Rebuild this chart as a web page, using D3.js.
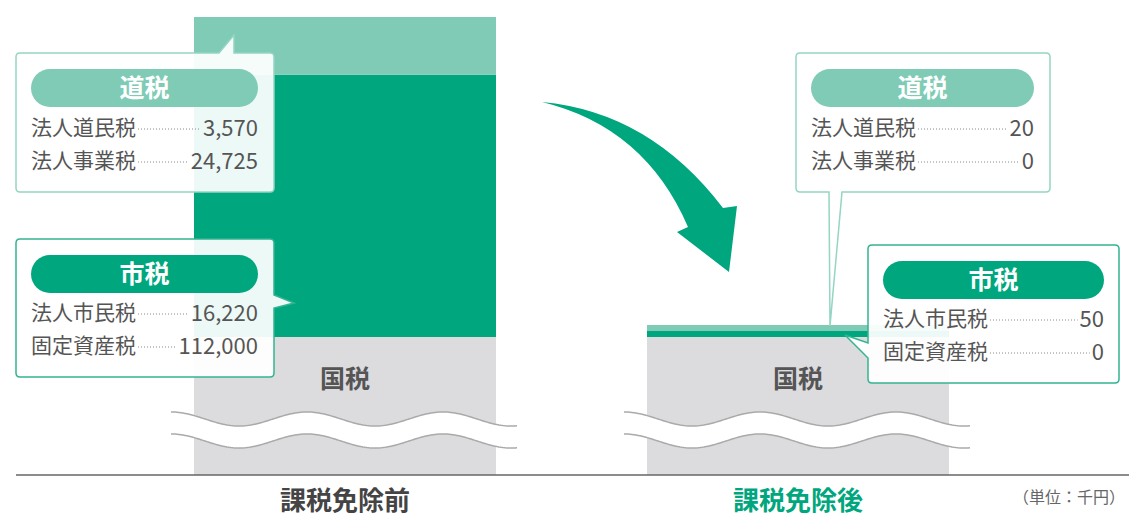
<!DOCTYPE html>
<html>
<head>
<meta charset="utf-8">
<script src="https://cdn.jsdelivr.net/npm/d3@7"></script>
<style>
  body { margin: 0; background: #fff; }
  svg { display: block; font-family: "Noto Sans CJK JP", "Noto Sans", sans-serif; }
</style>
</head>
<body>
<div id="vis"></div>
<script>
// data (unit: 千円)
var categories = ["課税免除前", "課税免除後"];
var doItems = ["法人道民税", "法人事業税"];
var doValues = [[3570, 24725], [20, 0]];      // per category
var shiItems = ["法人市民税", "固定資産税"];
var shiValues = [[16220, 112000], [50, 0]];
var kokuzeiLabel = "国税";
var unitLabel = "（単位：千円）";

var W = 1129, H = 518;
var LIGHT = "#7fcbb5", DARK = "#00a67d", GREY = "#dcdcdf", TEXT = "#555";

var svg = d3.select("#vis").append("svg").attr("width", W).attr("height", H);

var x = d3.scalePoint().domain(categories).range([345, 798]);
var barW = 302;
var baseY = 337, axisY = 475;
var totals = categories.map(function(c, i) { return d3.sum(doValues[i]) + d3.sum(shiValues[i]); });
var h = d3.scaleLinear().domain([0, d3.max(totals)]).range([0, 320]);
function bandH(v) { return Math.max(h(v), 6); }   // keep tiny values visible

var g = svg.append("g");

categories.forEach(function(c, i) {
  var cx = x(c), x0 = cx - barW / 2;
  var shiH = bandH(d3.sum(shiValues[i]));
  var doH = bandH(d3.sum(doValues[i]));
  // national tax block
  g.append("rect").attr("x", x0).attr("y", baseY).attr("width", barW).attr("height", axisY - baseY).attr("fill", GREY);
  g.append("rect").attr("x", x0).attr("y", baseY - shiH).attr("width", barW).attr("height", shiH).attr("fill", DARK);
  g.append("rect").attr("x", x0).attr("y", baseY - shiH - doH).attr("width", barW).attr("height", doH).attr("fill", LIGHT);

  g.append("text").attr("x", cx).attr("y", 379).attr("dy", "0.35em")
    .attr("text-anchor", "middle").attr("font-size", 25).attr("font-weight", 700)
    .attr("fill", TEXT).text(kokuzeiLabel);

  // wave break
  var wx0 = x0 - 23, wx1 = x0 + barW + 22, P = 136, A = 7;
  var up = d3.range(wx0, wx1 + 1, 2).map(function(px) { return [px, 419 - A * Math.cos(2 * Math.PI * (px - wx0) / P)]; });
  var lo = up.map(function(p) { return [p[0], p[1] + 22]; });
  var line = d3.line();
  g.append("path").attr("d", line(up.concat(lo.slice().reverse())) + "Z").attr("fill", "#fff");
  g.append("path").attr("d", line(up)).attr("fill", "none").attr("stroke", "#aaa").attr("stroke-width", 1.5);
  g.append("path").attr("d", line(lo)).attr("fill", "none").attr("stroke", "#aaa").attr("stroke-width", 1.5);

  g.append("text").attr("x", cx).attr("y", 501).attr("dy", "0.35em")
    .attr("text-anchor", "middle").attr("font-size", 26).attr("font-weight", 700)
    .attr("fill", i == 0 ? "#444" : DARK).text(c);
});

// axis line
g.append("line").attr("x1", 16).attr("x2", W).attr("y1", axisY).attr("y2", axisY)
  .attr("stroke", "#666").attr("stroke-width", 1.5);

g.append("text").attr("x", 1125).attr("y", 497).attr("dy", "0.35em").attr("text-anchor", "end")
  .attr("font-size", 16).attr("fill", "#666").text(unitLabel);

// arrow
g.append("path")
  .attr("d", "M542,102 Q650,112 723,208 L737,206 L729,272 L677,232 L688,227 Q645,127 542,102 Z")
  .attr("fill", DARK);

// callout boxes
function boxPath(b) {
  var x0 = b.x, y0 = b.y, x1 = b.x + b.w, y1 = b.y + b.h, r = 4, p = b.ptr;
  var s = "M" + (x0 + r) + "," + y0;
  if (p.side == "top") s += "L" + p.a + "," + y0 + "L" + p.tip + "L" + p.b + "," + y0;
  s += "L" + (x1 - r) + "," + y0 + "Q" + x1 + "," + y0 + " " + x1 + "," + (y0 + r);
  if (p.side == "right") s += "L" + x1 + "," + p.a + "L" + p.tip + "L" + x1 + "," + p.b;
  s += "L" + x1 + "," + (y1 - r) + "Q" + x1 + "," + y1 + " " + (x1 - r) + "," + y1;
  if (p.side == "bottom") s += "L" + p.b + "," + y1 + "L" + p.tip + "L" + p.a + "," + y1;
  s += "L" + (x0 + r) + "," + y1 + "Q" + x0 + "," + y1 + " " + x0 + "," + (y1 - r);
  if (p.side == "left") s += "L" + x0 + "," + p.b + "L" + p.tip + "L" + x0 + "," + p.a;
  s += "L" + x0 + "," + (y0 + r) + "Q" + x0 + "," + y0 + " " + (x0 + r) + "," + y0 + "Z";
  return s;
}

var boxes = [
  {x: 16, y: 53, w: 258, h: 139, col: LIGHT, title: "道税", items: doItems, vals: doValues[0],
   ptr: {side: "top", a: 219, b: 234, tip: "234,35"}, pill: [31, 69, 227], rows: [128, 161]},
  {x: 16, y: 239, w: 258, h: 138, col: DARK, title: "市税", items: shiItems, vals: shiValues[0],
   ptr: {side: "right", a: 295, b: 308, tip: "294,303"}, pill: [31, 255, 227], rows: [313, 346]},
  {x: 796, y: 53, w: 254, h: 139, col: LIGHT, title: "道税", items: doItems, vals: doValues[1],
   ptr: {side: "bottom", a: 829, b: 842, tip: "830,326"}, pill: [811, 69, 223], rows: [128, 161]},
  {x: 868, y: 245, w: 251, h: 138, col: DARK, title: "市税", items: shiItems, vals: shiValues[1],
   ptr: {side: "left", a: 343, b: 358, tip: "845,335"}, pill: [883, 261, 221], rows: [319, 352]}
];

var fmt = d3.format(",");
boxes.forEach(function(b) {
  var bg = svg.append("g");
  bg.append("path").attr("d", boxPath(b)).attr("fill", "#fff").attr("fill-opacity", 0.93)
    .attr("stroke", b.col == LIGHT ? "#94d5c3" : "#33b491").attr("stroke-width", 1.5);
  var px = b.pill[0], py = b.pill[1], pw = b.pill[2], ph = 38;
  bg.append("rect").attr("x", px).attr("y", py).attr("width", pw).attr("height", ph)
    .attr("rx", ph / 2).attr("fill", b.col);
  bg.append("text").attr("x", px + pw / 2).attr("y", py + ph / 2).attr("dy", "0.35em")
    .attr("text-anchor", "middle").attr("font-size", 25).attr("font-weight", 700)
    .attr("fill", "#fff").text(b.title);
  b.items.forEach(function(name, j) {
    var ry = b.rows[j];
    var lt = bg.append("text").attr("x", px).attr("y", ry).attr("dy", "0.35em")
      .attr("font-size", 21).attr("fill", TEXT).text(name);
    var vt = bg.append("text").attr("x", px + pw).attr("y", ry).attr("dy", "0.35em")
      .attr("text-anchor", "end").attr("font-size", 22).attr("fill", TEXT).text(fmt(b.vals[j]));
    var l0 = px + lt.node().getComputedTextLength() + 2;
    var l1 = px + pw - vt.node().getComputedTextLength() - 2;
    bg.append("line").attr("x1", l0).attr("x2", l1).attr("y1", ry + 1).attr("y2", ry + 1)
      .attr("stroke", "#888").attr("stroke-width", 1).attr("stroke-dasharray", "1,2");
  });
});
</script>
</body>
</html>
